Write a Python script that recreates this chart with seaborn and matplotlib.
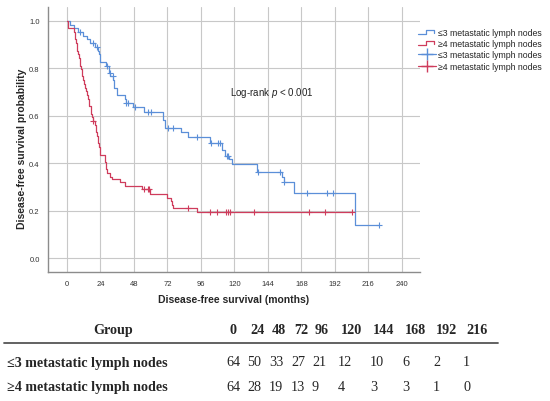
import numpy as np
import pandas as pd
import matplotlib
matplotlib.use("Agg")
import matplotlib.pyplot as plt
import seaborn as sns
from matplotlib.legend_handler import HandlerBase
from matplotlib.lines import Line2D

# Kaplan-Meier steps (months, survival after each drop)
low_time = [0, 2.5, 5, 8, 11.5, 14, 16.5, 20, 22, 23, 24, 28, 30, 31, 33, 34, 35.5,
            41.5, 42, 47, 55.5, 69, 70.5, 82, 87, 102.5, 111, 113, 116, 118, 136,
            154, 155.5, 163, 206.5]
low_surv = [1.0, 0.984, 0.969, 0.953, 0.938, 0.922, 0.906, 0.891, 0.875, 0.859, 0.828,
            0.812, 0.781, 0.766, 0.750, 0.719, 0.688, 0.672, 0.656, 0.637, 0.615,
            0.582, 0.549, 0.530, 0.509, 0.484, 0.457, 0.430, 0.417, 0.395, 0.361,
            0.341, 0.320, 0.275, 0.138]
low_censor = [9.3, 19, 21.3, 29, 30.8, 32.7, 42.5, 44, 48.5, 58, 60.5, 72.6, 76.2,
              93.5, 103.5, 108, 109.5, 114.4, 115.6, 137, 153, 155.8, 172, 186.5,
              190.5, 223.7]

high_time = [0, 1, 5, 5.5, 6, 6.5, 7, 7.5, 8, 8.5, 9, 9.5, 10, 10.5, 11, 11.5, 12, 13,
             13.5, 14, 15, 15.5, 16, 17, 17.5, 18, 18.5, 20, 20.5, 21, 21.5, 22, 22.5,
             23, 23.5, 24, 27.5, 28, 28.5, 31, 32.5, 38, 41.5, 53.5, 59.4, 71.4, 74.6,
             75.5, 76.3, 93]
high_surv = [1.0, 0.969, 0.953, 0.938, 0.922, 0.906, 0.891, 0.875, 0.859, 0.844, 0.828,
             0.812, 0.797, 0.781, 0.766, 0.750, 0.734, 0.719, 0.703, 0.688, 0.672,
             0.656, 0.641, 0.625, 0.609, 0.594, 0.578, 0.562, 0.547, 0.531, 0.516,
             0.500, 0.484, 0.468, 0.452, 0.436, 0.405, 0.374, 0.358, 0.343, 0.335,
             0.320, 0.305, 0.290, 0.272, 0.255, 0.240, 0.225, 0.210, 0.193]
high_censor = [19, 55, 57.8, 58.6, 87, 102.5, 107.5, 114.3, 115.6, 116.9, 134, 173.4,
               184.7, 204.3]

group_labels = ["\u22643 metastatic lymph nodes", "\u22654 metastatic lymph nodes"]
risk_times = [0, 24, 48, 72, 96, 120, 144, 168, 192, 216]
risk_low = [64, 50, 33, 27, 21, 12, 10, 6, 2, 1]
risk_high = [64, 28, 19, 13, 9, 4, 3, 3, 1, 0]

blue = "#5b8fd8"
red = "#cf3c5c"

sns.set_style("white")
plt.rcParams["font.family"] = ["Liberation Sans", "DejaVu Sans"]
plt.rcParams["mathtext.fontset"] = "custom"
plt.rcParams["mathtext.rm"] = "Liberation Sans"
plt.rcParams["mathtext.it"] = "Liberation Sans:italic"

W, H = 550, 402
fig = plt.figure(figsize=(W / 100, H / 100), dpi=100)
ax = fig.add_axes([48 / W, 1 - 273 / H, 372 / W, 265 / H])


def step_frame(times, surv, censor):
    df = pd.DataFrame({"t": times + [max(censor)], "s": surv + [surv[-1]]})
    idx = np.searchsorted(times, censor, side="right") - 1
    cdf = pd.DataFrame({"t": censor, "s": np.array(surv)[idx]})
    return df, cdf


for times, surv, censor, col in [(low_time, low_surv, low_censor, blue),
                                 (high_time, high_surv, high_censor, red)]:
    df, cdf = step_frame(times, surv, censor)
    sns.lineplot(data=df, x="t", y="s", color=col, linewidth=0.9,
                 drawstyle="steps-post", estimator=None, sort=False, ax=ax)
    sns.scatterplot(data=cdf, x="t", y="s", color=col, marker="+", s=22,
                    linewidth=0.8, ax=ax, zorder=3)

ax.set_xlim(-13.6, 253)
ax.set_ylim(-0.059, 1.059)
ax.set_xticks(np.arange(0, 241, 24))
ax.set_yticks(np.arange(0, 1.01, 0.2))
ax.set_yticklabels([f"{v:.1f}" for v in np.arange(0, 1.01, 0.2)])
ax.grid(True, color="#c8c8c8", linewidth=0.8)
ax.set_axisbelow(True)
for side in ["top", "right"]:
    ax.spines[side].set_visible(False)
for side in ["left", "bottom"]:
    ax.spines[side].set_color("#8c8c8c")
    ax.spines[side].set_linewidth(1.0)
ax.tick_params(length=0, labelsize=5.5, labelcolor="#333333", pad=6)

ax.set_xlabel("Disease-free survival (months)", fontsize=7.5, fontweight="bold",
              labelpad=5)
ax.set_ylabel("Disease-free survival probability", fontsize=7.5, fontweight="bold")
ax.yaxis.set_label_coords(-0.057, 0.47)

ax.text(147, 0.70, "Log-rank $p$ < 0.001", fontsize=7, ha="center", va="center",
        color="#222222")


class StepHandler(HandlerBase):
    def create_artists(self, legend, orig, xd, yd, w, h, fontsize, trans):
        xs = [xd, xd + w * 0.45, xd + w * 0.45, xd + w * 0.9, xd + w * 0.9]
        ys = [yd + h * 0.15, yd + h * 0.15, yd + h * 0.85, yd + h * 0.85, yd + h * 0.4]
        ln = Line2D(xs, ys, color=orig.get_color(), linewidth=0.9, transform=trans)
        return [ln]


handles = [Line2D([], [], color=blue), Line2D([], [], color=red),
           Line2D([], [], color=blue, marker="+", markersize=8, linewidth=0.9),
           Line2D([], [], color=red, marker="+", markersize=8, linewidth=0.9)]
labels = group_labels + group_labels
fig.legend(handles, labels, loc="upper left", bbox_to_anchor=(418 / W, 1 - 29 / H),
           frameon=False, fontsize=6.3, handlelength=2.0, handletextpad=0.3,
           labelspacing=0.25, borderaxespad=0, borderpad=0,
           handler_map={handles[0]: StepHandler(), handles[1]: StepHandler()})

# number-at-risk table
serif = ["Liberation Serif", "DejaVu Serif"]
col_left = [229, 250, 272, 294, 315, 341, 373, 405, 436, 466]
fig.text(113 / W, 1 - 331 / H, "Group", family=serif, fontsize=10.2,
         fontweight="bold", ha="center", va="center")
for x, t in zip(col_left, risk_times):
    fig.text(x / W, 1 - 331 / H, str(t), family=serif, fontsize=10.2,
             fontweight="bold", ha="left", va="center")
fig.add_artist(Line2D([4 / W, 498 / W], [1 - 344 / H, 1 - 344 / H],
                      color="#555555", linewidth=1.3, transform=fig.transFigure))
for y, label, counts in [(363, group_labels[0], risk_low),
                         (388, group_labels[1], risk_high)]:
    fig.text(7 / W, 1 - y / H, label, family=serif, fontsize=10.2,
             fontweight="bold", ha="left", va="center")
    for x, n in zip(col_left, counts):
        fig.text((x - 3) / W, 1 - y / H, str(n), family=serif, fontsize=10.2,
                 ha="left", va="center")

fig.savefig("out.png", dpi=100, facecolor="white")
